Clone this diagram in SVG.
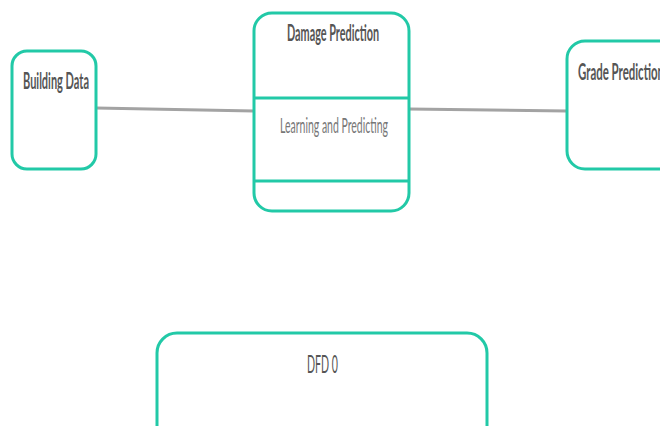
<svg xmlns="http://www.w3.org/2000/svg" width="660" height="426" viewBox="0 0 660 426">
<style>
.box{fill:#fff;stroke:#22c9a7;stroke-width:3}
.div{stroke:#22c9a7;stroke-width:3}
.t{font-family:Lato,"Liberation Sans",sans-serif;font-size:23px;font-weight:bold;fill:#555}
.s{font-family:Lato,"Liberation Sans",sans-serif;font-size:21px;fill:#777}
.c{stroke:#a3a3a3;stroke-width:3;fill:none}
</style>
<rect width="660" height="426" fill="#fff"/>
<g id="connectors">
<line class="c" x1="96" y1="108" x2="254" y2="111"/>
<line class="c" x1="409" y1="109" x2="567" y2="111"/>
</g>
<g id="building-data">
<rect class="box" x="12" y="51" width="84" height="118" rx="15"/>
<text class="t" x="23" y="89" textLength="66" lengthAdjust="spacingAndGlyphs">Building Data</text>
</g>
<g id="damage-prediction">
<rect class="box" x="254" y="13" width="155" height="198" rx="18"/>
<line class="div" x1="254" y1="98" x2="409" y2="98"/>
<line class="div" x1="254" y1="181" x2="409" y2="181"/>
<text class="t" x="287" y="41" textLength="92" lengthAdjust="spacingAndGlyphs">Damage Prediction</text>
<text class="s" x="280" y="133" textLength="108" lengthAdjust="spacingAndGlyphs">Learning and Predicting</text>
</g>
<g id="grade-prediction">
<rect class="box" x="567" y="41" width="120" height="128" rx="18"/>
<text class="t" x="578" y="80" textLength="86" lengthAdjust="spacingAndGlyphs">Grade Prediction</text>
</g>
<g id="dfd0">
<rect class="box" x="157" y="333" width="330" height="120" rx="20"/>
<text class="t" x="307" y="373" textLength="31" lengthAdjust="spacingAndGlyphs" style="font-size:25px;font-weight:normal">DFD 0</text>
</g>
</svg>
